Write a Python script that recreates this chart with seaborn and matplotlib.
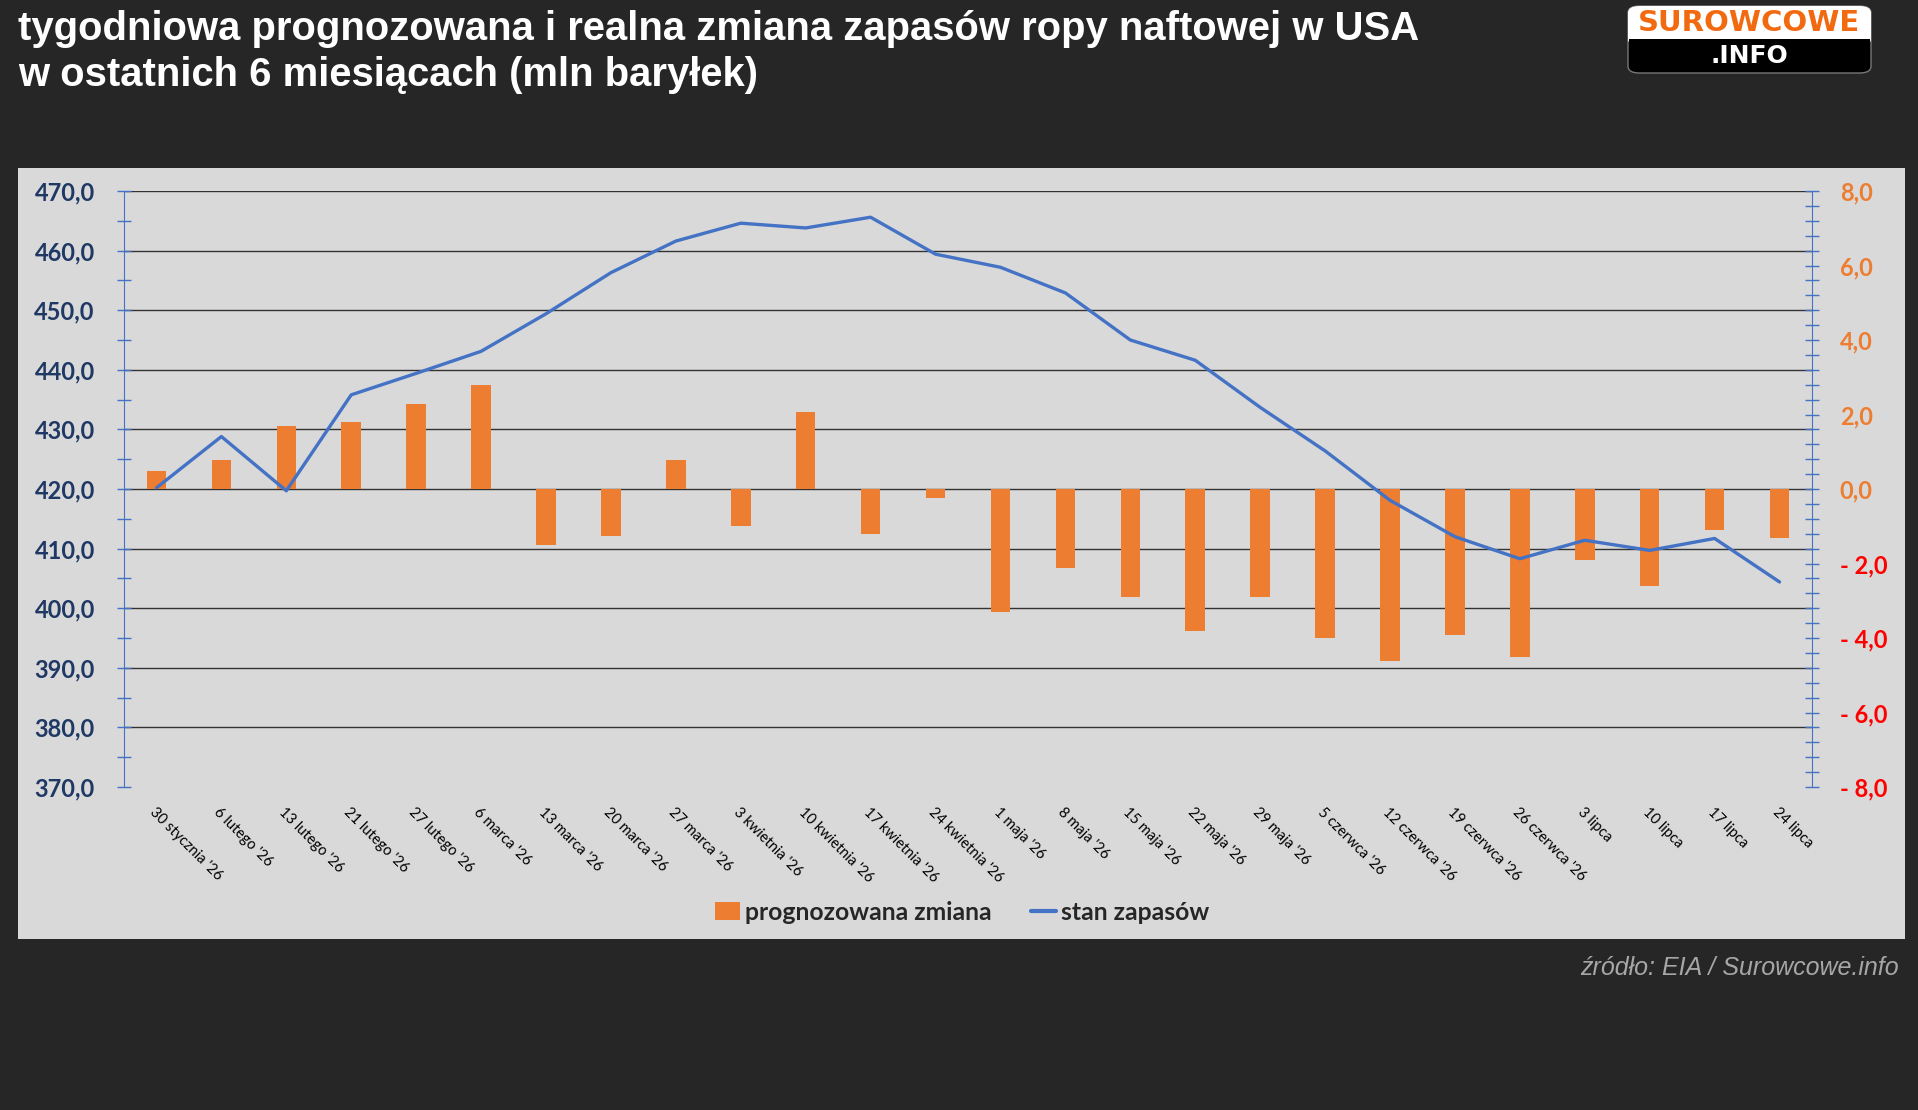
import numpy as np
import matplotlib
matplotlib.use("Agg")
import matplotlib.pyplot as plt
import seaborn as sns
from matplotlib.patches import Rectangle, FancyBboxPatch, Patch
from matplotlib.lines import Line2D

# weekly data (mln barrels)
dates = ["30 stycznia '26", "6 lutego '26", "13 lutego '26", "21 lutego '26", "27 lutego '26",
         "6 marca '26", "13 marca '26", "20 marca '26", "27 marca '26", "3 kwietnia '26",
         "10 kwietnia '26", "17 kwietnia '26", "24 kwietnia '26", "1 maja '26", "8 maja '26",
         "15 maja '26", "22 maja '26", "29 maja '26", "5 czerwca '26", "12 czerwca '26",
         "19 czerwca '26", "26 czerwca '26", "3 lipca", "10 lipca", "17 lipca", "24 lipca"]
forecast = [0.47, 0.79, 1.68, 1.79, 2.29, 2.78, -1.50, -1.26, 0.79, -0.99, 2.08, -1.21, -0.24,
            -3.30, -2.12, -2.90, -3.81, -2.90, -3.99, -4.61, -3.91, -4.50, -1.90, -2.60, -1.10, -1.31]
stocks = [420.2, 428.8, 419.7, 435.8, 439.4, 443.1, 449.4, 456.3, 461.6, 464.6, 463.8, 465.6, 459.4,
          457.2, 452.9, 445.0, 441.6, 433.7, 426.4, 418.1, 412.0, 408.3, 411.4, 409.7, 411.7, 404.4]

left_ticks = [370, 380, 390, 400, 410, 420, 430, 440, 450, 460, 470]
right_ticks = [-8, -6, -4, -2, 0, 2, 4, 6, 8]

ORANGE = "#ed7d31"
BLUE = "#4472c4"
NAVY = "#1f3864"
RED = "#ff0000"
BG = "#262626"
PANEL = "#d9d9d9"

W, H = 1918, 1110


def fx(px):
    return px / W


def fy(py):
    return 1 - py / H


sns.set_style("white")
plt.rcParams["font.family"] = ["Lato", "DejaVu Sans"]

fig = plt.figure(figsize=(W / 100, H / 100), dpi=100, facecolor=BG)
fig.patches.append(Rectangle((fx(18), fy(939)), fx(1905 - 18), (939 - 168) / H,
                             transform=fig.transFigure, facecolor=PANEL, edgecolor="none", zorder=-1))

ax_bar = fig.add_axes([fx(124), fy(787), fx(1812 - 124), (787 - 191) / H])
ax_bar.set_facecolor(PANEL)
ax_line = ax_bar.twinx()

n = len(dates)
sns.barplot(x=dates, y=forecast, ax=ax_bar, color=ORANGE, saturation=1, width=0.3,
            linewidth=0, edgecolor="none", zorder=2)
sns.lineplot(x=np.arange(n), y=stocks, ax=ax_line, color=BLUE, linewidth=2.4)

# horizontal gridlines follow the left axis, drawn behind the bars
ax_bar.hlines(left_ticks[1:], -0.5, n - 0.5, transform=ax_line.transData,
              colors="#333333", linewidth=1, zorder=0.5)

ax_bar.set_xlim(-0.5, n - 0.5)
ax_bar.set_ylim(-8, 8)
ax_line.set_ylim(370, 470)
for a in (ax_bar, ax_line):
    a.set_xlabel("")
    a.set_ylabel("")
    if a.get_legend():
        a.get_legend().remove()

# axis sides swapped: stocks on the left, forecast change on the right
ax_bar.yaxis.tick_right()
ax_line.yaxis.tick_left()

for s in ("left", "top", "bottom"):
    ax_bar.spines[s].set_visible(False)
ax_bar.spines["right"].set_color(BLUE)
for s in ("right", "top", "bottom"):
    ax_line.spines[s].set_visible(False)
ax_line.spines["left"].set_color(BLUE)

ax_line.set_yticks(left_ticks, labels=[f"{v:.1f}".replace(".", ",") for v in left_ticks],
                   fontweight="bold")
ax_line.set_yticks(np.arange(375, 470, 10), minor=True)
ax_line.tick_params(axis="y", which="both", direction="inout", length=10, width=1,
                    color=BLUE, labelcolor=NAVY, labelsize=17, pad=16)

right_labels = [f"{v:.1f}".replace(".", ",") if v >= 0 else f"- {abs(v):.1f}".replace(".", ",")
                for v in right_ticks]
ax_bar.set_yticks(right_ticks, labels=right_labels, fontweight="bold")
ax_bar.set_yticks(np.arange(-8, 8.01, 0.4), minor=True)
ax_bar.tick_params(axis="y", which="both", direction="inout", length=10, width=1,
                   color=BLUE, labelsize=17, pad=15)
for lbl, v in zip(ax_bar.get_yticklabels(), right_ticks):
    lbl.set_color(RED if v < 0 else ORANGE)

ax_bar.set_xticks(range(n), labels=dates, rotation=-45, ha="left", va="top",
                  rotation_mode="anchor", fontsize=10.5, color="black")
ax_bar.tick_params(axis="x", length=0, pad=13)

handles = [Patch(facecolor=ORANGE, edgecolor="none"), Line2D([], [], color=BLUE, linewidth=3)]
fig.legend(handles, ["prognozowana zmiana", "stan zapasów"], loc="center",
           bbox_to_anchor=(fx(962), fy(912)), ncol=2, frameon=False,
           prop={"weight": "bold", "size": 17.8}, handlelength=1.0, handletextpad=0.2,
           columnspacing=1.6)

fig.text(fx(18), fy(10), "tygodniowa prognozowana i realna zmiana zapasów ropy naftowej w USA\n"
         "w ostatnich 6 miesiącach (mln baryłek)", ha="left", va="top", color="white",
         fontweight="bold", family="Liberation Sans", fontsize=28.8, linespacing=1.28)

fig.text(fx(1899), fy(968), "źródło: EIA / Surowcowe.info", ha="right", va="center",
         color="#a6a6a6", style="italic", family="Liberation Sans", fontsize=18)

# logo
fig.patches.append(FancyBboxPatch((fx(1628), fy(73)), fx(1871 - 1628), 67 / H,
                                  boxstyle="round,pad=0,rounding_size=0.006",
                                  transform=fig.transFigure, facecolor="black",
                                  edgecolor="#777777", linewidth=1, zorder=1))
fig.patches.append(FancyBboxPatch((fx(1628), fy(46)), fx(1871 - 1628), 40 / H,
                                  boxstyle="round,pad=0,rounding_size=0.006",
                                  transform=fig.transFigure, facecolor="white",
                                  edgecolor="none", zorder=2))
fig.patches.append(Rectangle((fx(1629), fy(55)), fx(1870 - 1629), 16 / H,
                             transform=fig.transFigure, facecolor="black",
                             edgecolor="none", zorder=3))
fig.text(fx(1749), fy(23), "SUROWCOWE", ha="center", va="center", color="#f26a10",
         fontweight="bold", family="DejaVu Sans", fontsize=21, zorder=4)
fig.text(fx(1749), fy(56), ".INFO", ha="center", va="center", color="white",
         fontweight="bold", family="DejaVu Sans", fontsize=18, zorder=4)

fig.savefig("out.png", dpi=100, facecolor=fig.get_facecolor())
